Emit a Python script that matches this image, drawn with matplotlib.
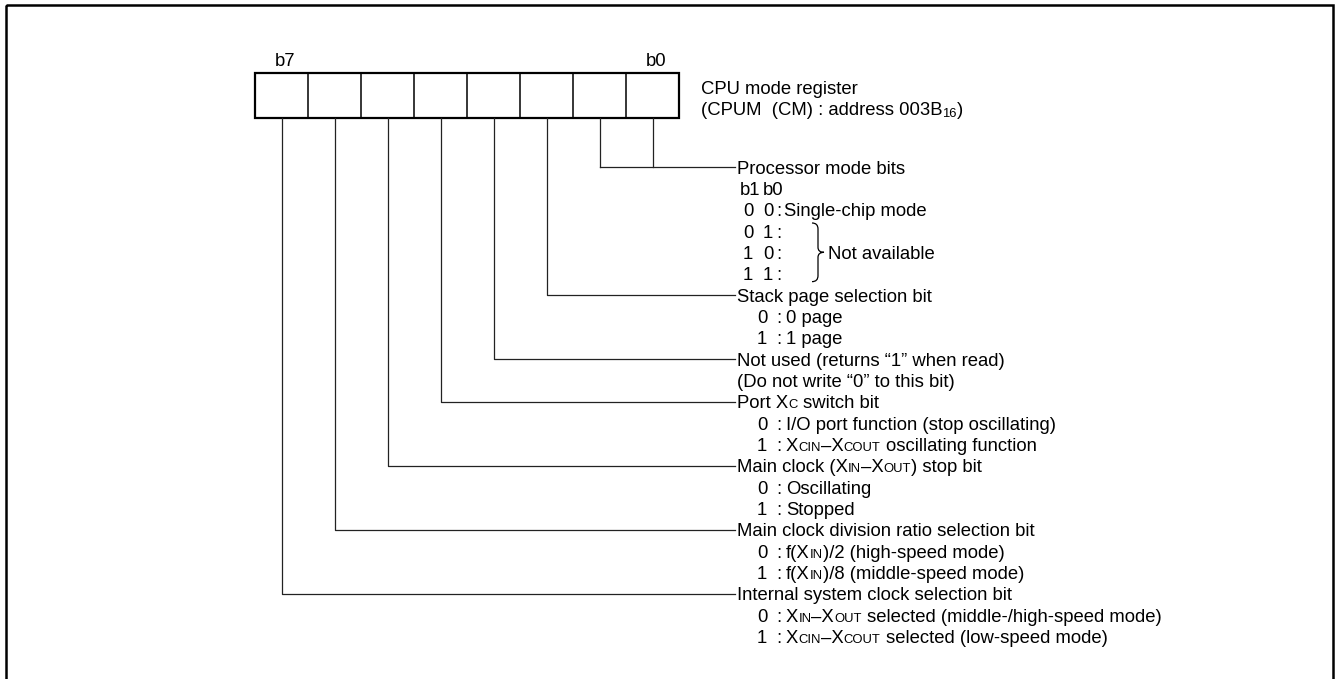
import re
import matplotlib
matplotlib.use("Agg")
import matplotlib.pyplot as plt
from matplotlib.patches import Rectangle, PathPatch
from matplotlib.path import Path

plt.rcParams['font.family'] = ['Liberation Sans', 'DejaVu Sans']

# register data
register_name = "CPU mode register"
register_addr = "(CPUM  (CM) : address 003B{16})"
msb_label = "b7"
lsb_label = "b0"
n_bits = 8

# processor mode bits (b1, b0)
proc_title = "Processor mode bits"
proc_header = ["b1", "b0"]
proc_codes = [("0", "0"), ("0", "1"), ("1", "0"), ("1", "1")]
proc_desc = ["Single-chip mode", "", "", ""]
proc_brace_text = "Not available"

# single bit fields b2..b7   ([..] = small caps, {..} = subscript)
field_bits = [2, 3, 4, 5, 6, 7]
field_titles = [
    ["Stack page selection bit"],
    ["Not used (returns \u201c1\u201d when read)", "(Do not write \u201c0\u201d to this bit)"],
    ["Port X[C] switch bit"],
    ["Main clock (X[IN]\u2013X[OUT]) stop bit"],
    ["Main clock division ratio selection bit"],
    ["Internal system clock selection bit"],
]
field_options = [
    ["0 page", "1 page"],
    [],
    ["I/O port function (stop oscillating)", "X[CIN]\u2013X[COUT] oscillating function"],
    ["Oscillating", "Stopped"],
    ["f(X[IN])/2 (high-speed mode)", "f(X[IN])/8 (middle-speed mode)"],
    ["X[IN]\u2013X[OUT] selected (middle-/high-speed mode)", "X[CIN]\u2013X[COUT] selected (low-speed mode)"],
]

W, H, DPI = 1335, 679, 100
FS = 13.3
SMALL = 9.4

fig = plt.figure(figsize=(W / DPI, H / DPI), dpi=DPI)
ax = fig.add_axes([0, 0, 1, 1])
ax.set_xlim(0, W)
ax.set_ylim(H, 0)
ax.axis('off')
renderer = fig.canvas.get_renderer()


def rich(x, y, s, size=FS):
    # draws text with small / subscript pieces, returns end x
    parts = re.split(r'(\[[^\]]*\]|\{[^}]*\})', s)
    for p in parts:
        if not p:
            continue
        fs = size
        dy = 0
        if p.startswith('['):
            p = p[1:-1]
            fs = SMALL
        elif p.startswith('{'):
            p = p[1:-1]
            fs = SMALL
            dy = 2
        sw = 0.278 * fs * DPI / 72
        lead = len(p) - len(p.lstrip(' '))
        trail = len(p) - len(p.rstrip(' '))
        x += lead * sw
        core = p.strip(' ')
        if core:
            t = ax.text(x, y + dy, core, fontsize=fs, va='baseline', ha='left', color='black')
            x = t.get_window_extent(renderer).x1
        x += trail * sw
    return x


# outer frame
ax.add_patch(Rectangle((6, 5), 1327, 700, fill=False, lw=1.8, ec='black'))

# register box
box_x0, box_y0, box_y1 = 255, 73, 118
cell_w = 53
ax.add_patch(Rectangle((box_x0, box_y0), cell_w * n_bits, box_y1 - box_y0,
                       fill=False, lw=1.6, ec='black'))
for i in range(1, n_bits):
    ax.plot([box_x0 + i * cell_w] * 2, [box_y0, box_y1], color='black', lw=1.1)

ax.text(box_x0 + 20, 66, msb_label, fontsize=FS, va='baseline')
ax.text(box_x0 + 391, 66, lsb_label, fontsize=FS, va='baseline')
rich(701, 94, register_name)
rich(701, 115, register_addr)


def bit_x(b):
    return box_x0 + (n_bits - 1 - b + 0.5) * cell_w


row0, dy_row = 167, 21.33
cap = 6.7
text_x = 737
line_end = 735
lc = '#222222'


def row_y(k):
    return row0 + k * dy_row


# processor mode bits
y = row_y(0)
for b in (1, 0):
    ax.plot([bit_x(b), bit_x(b)], [box_y1, y], color=lc, lw=0.9)
ax.plot([bit_x(1), line_end], [y, y], color=lc, lw=0.9)
rich(text_x, y + cap, proc_title)
rich(740, row_y(1) + cap, proc_header[0])
rich(763, row_y(1) + cap, proc_header[1])
for i, (c1, c0) in enumerate(proc_codes):
    yy = row_y(2 + i) + cap
    rich(743, yy, c1)
    rich(763, yy, c0)
    rich(776, yy, ":")
    if proc_desc[i]:
        rich(784, yy, proc_desc[i])

# brace for "Not available"
top, bot = row_y(3) - 8, row_y(5) + 8
mid = (top + bot) / 2
bx0, bx1, bx2 = 812, 818, 824
verts = [(bx0, top), (bx1, top), (bx1, top + 6), (bx1, mid - 5), (bx1, mid), (bx2, mid),
         (bx1, mid), (bx1, mid + 5), (bx1, bot - 6), (bx1, bot), (bx0, bot)]
codes = [Path.MOVETO, Path.CURVE3, Path.CURVE3, Path.LINETO, Path.CURVE3, Path.CURVE3,
         Path.CURVE3, Path.CURVE3, Path.LINETO, Path.CURVE3, Path.CURVE3]
ax.add_patch(PathPatch(Path(verts, codes), fill=False, lw=0.9, ec='black'))
rich(828, mid + cap, proc_brace_text)

# remaining fields
k = 6
for b, titles, opts in zip(field_bits, field_titles, field_options):
    y = row_y(k)
    ax.plot([bit_x(b), bit_x(b), line_end], [box_y1, y, y], color=lc, lw=0.9)
    for t in titles:
        rich(text_x, row_y(k) + cap, t)
        k += 1
    for i, o in enumerate(opts):
        yy = row_y(k) + cap
        rich(757, yy, str(i))
        rich(776, yy, ":")
        rich(786, yy, o)
        k += 1

fig.savefig("out.png", dpi=DPI)
